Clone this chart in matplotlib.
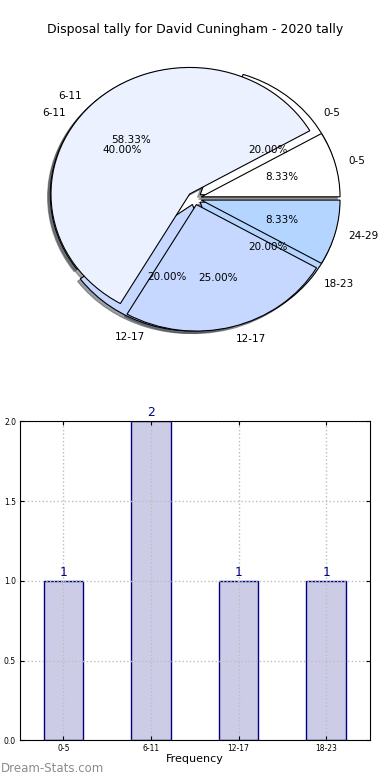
import matplotlib
matplotlib.use('Agg')
import matplotlib.pyplot as plt

title = 'Disposal tally for David Cuningham - 2020 tally'

# first pie (drawn underneath)
labels_a = ['0-5', '6-11', '12-17', '18-23']
counts_a = [1, 2, 1, 1]
# second pie (drawn on top)
labels_b = ['0-5', '6-11', '12-17', '24-29']
counts_b = [1, 7, 3, 1]
pie_colors = ['#ffffff', '#ebf1ff', '#c6d8ff', '#b3d5ff']

bar_labels = labels_a
bar_values = counts_a
yticks = [0.0, 0.5, 1.0, 1.5, 2.0]

W, H = 390, 780
fig = plt.figure(figsize=(W / 100, H / 100), dpi=100)

fig.text(0.5, 1 - 30 / H, title, ha='center', va='center', fontsize=9)

ax = fig.add_axes([21.2 / W, 1 - 356.6 / H, 346.8 / W, 316.3 / H])
for labs, cnts in ((labels_a, counts_a), (labels_b, counts_b)):
    ax.pie(cnts, labels=labs, colors=pie_colors, explode=[0.05] * len(cnts),
           autopct='%.2f%%', startangle=0,
           shadow={'ox': -0.014, 'oy': -0.014},
           wedgeprops=dict(edgecolor='black', linewidth=0.8),
           textprops=dict(fontsize=7.5))
ax.set_aspect('auto')
ax.set_xlim(-1.25, 1.25)
ax.set_ylim(-1.25, 1.25)

ax2 = fig.add_axes([19.5 / W, 1 - 740.3 / H, 350.5 / W, 319 / H])
x = list(range(len(bar_values)))
ax2.bar(x, bar_values, width=0.45, color='#cccce6', edgecolor='#000080', linewidth=1)
for xi, v in zip(x, bar_values):
    ax2.annotate(str(v), (xi, v), xytext=(0, 1.5), textcoords='offset points',
                 ha='center', va='bottom', color='#000080', fontsize=8.8,
                 annotation_clip=False)
ax2.set_xlim(-0.5, 3.5)
ax2.set_ylim(0, 2)
ax2.set_xticks(x)
ax2.set_xticklabels(bar_labels)
ax2.set_yticks(yticks)
ax2.set_yticklabels(['%.1f' % t for t in yticks])
ax2.tick_params(labelsize=5.5, direction='in', length=3, pad=2.5, top=True, right=True)
ax2.grid(True, linestyle=':', color='#bdbdbd', linewidth=1)
ax2.set_axisbelow(False)
for sp in ax2.spines.values():
    sp.set_zorder(3)
ax2.set_xlabel('Frequency', fontsize=8, labelpad=1)

fig.text(0.003, 1 - 769 / H, 'Dream-Stats.com', color='#8c8c8c', fontsize=8.5,
         ha='left', va='center')

fig.savefig('out.png', dpi=100)
